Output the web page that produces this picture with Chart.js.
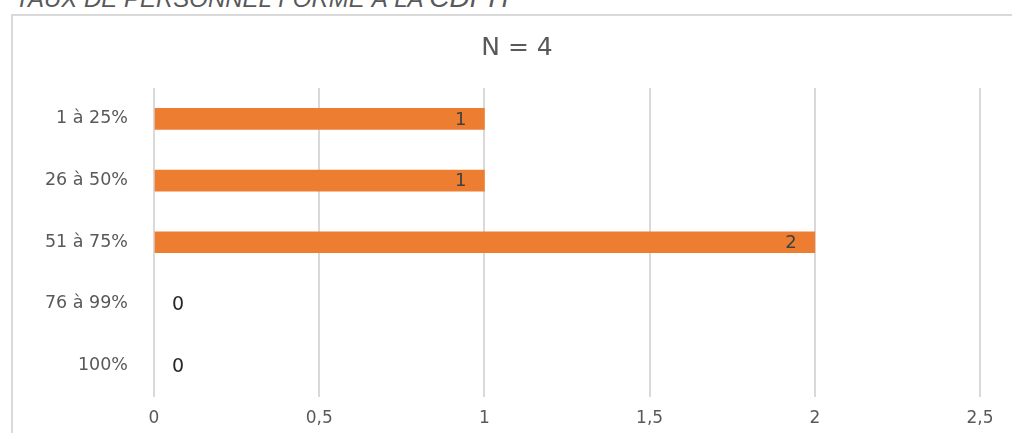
<!DOCTYPE html>
<html><head><meta charset="utf-8">
<script src="https://cdn.jsdelivr.net/npm/chart.js@4"></script>
<style>
html,body{margin:0;padding:0;background:#fff;overflow:hidden;}
#t{position:absolute;left:15px;top:-16px;font-family:"Liberation Sans",Arial,sans-serif;font-style:italic;font-size:24px;color:#595959;white-space:nowrap;line-height:28px;}
#t span{font-size:28px;}
#bl{position:absolute;left:11px;top:14px;width:2px;height:430px;background:#d9d9d9;}
#bt{position:absolute;left:11px;top:14px;width:1010px;height:2px;background:#d9d9d9;}
#wrap{position:absolute;left:12px;top:15px;width:1010px;height:418px;}
</style></head>
<body>
<div id="t">TAUX DE PERSONNEL FORMÉ À LA <span>CDPH</span></div>
<div id="bl"></div><div id="bt"></div>
<div id="wrap"><canvas id="c"></canvas></div>
<script>
const categories = ["1 à 25%", "26 à 50%", "51 à 75%", "76 à 99%", "100%"];
const values = [1, 1, 2, 0, 0];
const chartTitle = "N = 4";
const xTicks = [0, 0.5, 1, 1.5, 2, 2.5];

const FONT = '"DejaVu Sans", sans-serif';

const labelPlugin = {
  id: 'vlabels',
  afterDatasetsDraw(chart) {
    const ctx = chart.ctx;
    const meta = chart.getDatasetMeta(0);
    ctx.save();
    ctx.textBaseline = 'middle';
    meta.data.forEach((bar, i) => {
      const v = values[i];
      if (v > 0) {
        ctx.font = '18px ' + FONT;
        ctx.fillStyle = '#404040';
        ctx.textAlign = 'right';
        ctx.fillText(String(v), bar.x - 18, bar.y + 1);
      } else {
        ctx.font = '19px ' + FONT;
        ctx.fillStyle = '#262626';
        ctx.textAlign = 'left';
        ctx.fillText(String(v), bar.x + 18, bar.y + 1);
      }
    });
    ctx.restore();
  }
};

new Chart(document.getElementById('c'), {
  type: 'bar',
  data: {
    labels: categories,
    datasets: [{
      data: values,
      backgroundColor: c => (c.raw > 0 ? '#ED7D31' : 'rgba(0,0,0,0)'),
      borderWidth: 0,
      barThickness: 21
    }]
  },
  options: {
    indexAxis: 'y',
    responsive: true,
    maintainAspectRatio: false,
    animation: false,
    devicePixelRatio: 1,
    layout: { padding: 0 },
    plugins: {
      legend: { display: false },
      tooltip: { enabled: false },
      title: {
        display: true,
        text: chartTitle,
        color: '#595959',
        font: { family: FONT, size: 25, weight: 'normal', lineHeight: 1.2 },
        padding: { top: 18, bottom: 25 }
      }
    },
    scales: {
      x: {
        min: 0, max: 2.5,
        afterBuildTicks(s) { s.ticks = xTicks.map(v => ({ value: v })); },
        afterFit(s) { s.height = 35; },
        grid: { color: '#d9d9d9', lineWidth: 2, drawTicks: false },
        border: { display: false },
        ticks: {
          padding: 12,
          color: '#595959',
          font: { family: FONT, size: 17 },
          callback: v => String(v).replace('.', ',')
        }
      },
      y: {
        afterFit(s) { s.width = 142; },
        grid: { display: false, drawTicks: false },
        border: { display: false },
        ticks: {
          padding: 26,
          color: '#595959',
          font: { family: FONT, size: 17.5 }
        }
      },
      yRight: {
        axis: 'y',
        type: 'category',
        position: 'right',
        afterFit(s) { s.width = 42; },
        grid: { display: false, drawTicks: false },
        border: { display: false },
        ticks: { display: false }
      }
    }
  },
  plugins: [labelPlugin]
});
</script>
</body></html>
